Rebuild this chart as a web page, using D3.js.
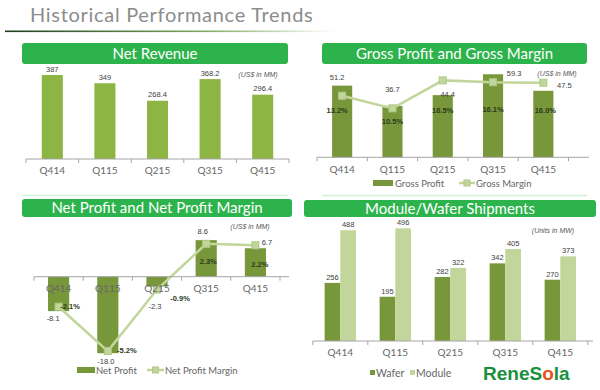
<!DOCTYPE html>
<html lang="en">
<head>
<meta charset="UTF-8">
<title>Historical Performance Trends</title>
<style>
body { margin: 0; background: #fff; }
svg { display: block; font-family: Lato, "Liberation Sans", sans-serif; }
.head-text { fill: #fff; font-size: 15px; text-anchor: middle; }
.tick-label { fill: #666; font-size: 10px; text-anchor: middle; }
.val { fill: #404040; font-size: 7.5px; text-anchor: middle; font-family: "Liberation Sans", sans-serif; }
.pct { fill: #2b3a1a; font-size: 7.5px; font-weight: bold; text-anchor: middle; font-family: "Liberation Sans", sans-serif; }
.unit { fill: #595959; font-size: 7px; font-style: italic; text-anchor: middle; font-family: "Liberation Sans", sans-serif; }
.legend { fill: #666; font-size: 9.5px; }
</style>
</head>
<body>
<svg id="chart" width="600" height="390"></svg>
<script src="https://d3js.org/d3.v7.min.js"></script>
<script>
// data
const quarters = ["Q414", "Q115", "Q215", "Q315", "Q415"];
const netRevenue = [387, 349, 268.4, 368.2, 296.4];
const grossProfit = [51.2, 36.7, 44.4, 59.3, 47.5];
const grossMargin = [13.2, 10.5, 16.5, 16.1, 16.0];
const netProfit = [-8.1, -18.0, -2.3, 8.6, 6.7];
const netProfitMargin = [-2.1, -5.2, -0.9, 2.3, 2.2];
const waferShip = [256, 195, 282, 342, 270];
const moduleShip = [488, 496, 322, 405, 373];
const shipSeries = ["Wafer", "Module"];

const green = "#2db34b";
const barLight = "#8db543";
const barDark = "#78973b";
const lineLight = "#c2d69b";

const svg = d3.select("#chart");

// title + underline
const grad = svg.append("defs").append("linearGradient").attr("id", "rule");
grad.append("stop").attr("offset", "0%").attr("stop-color", "#1e3d1e");
grad.append("stop").attr("offset", "60%").attr("stop-color", "#7ea862");
grad.append("stop").attr("offset", "100%").attr("stop-color", "#ffffff");

svg.append("text")
  .attr("x", 30).attr("y", 22)
  .attr("fill", "#8c8c8c")
  .style("font-size", "20px")
  .style("letter-spacing", "0.7px")
  .text("Historical Performance Trends");

svg.append("rect")
  .attr("x", 5).attr("y", 30.5).attr("width", 330).attr("height", 1.6)
  .attr("fill", "url(#rule)");

function header(x0, x1, y0, y1, label) {
  svg.append("rect")
    .attr("x", x0).attr("y", y0).attr("width", x1 - x0).attr("height", y1 - y0)
    .attr("rx", 3).attr("fill", green);
  svg.append("text")
    .attr("class", "head-text")
    .attr("x", (x0 + x1) / 2).attr("y", (y0 + y1) / 2 + 5)
    .text(label);
}

// category axis: line, ticks at band edges, labels
function categoryAxis(x, y, lineEnd, labelY) {
  const half = x.step() / 2;
  svg.append("line")
    .attr("x1", x.range()[0]).attr("x2", lineEnd)
    .attr("y1", y).attr("y2", y)
    .attr("stroke", "#a6a6a6").attr("stroke-width", 1);
  const edges = quarters.map(q => x(q) + x.bandwidth() / 2 - half)
    .concat([x(quarters[quarters.length - 1]) + x.bandwidth() / 2 + half]);
  svg.selectAll(null).data(edges).enter().append("line")
    .attr("x1", d => d).attr("x2", d => d)
    .attr("y1", y).attr("y2", y + 4)
    .attr("stroke", "#a6a6a6");
  svg.selectAll(null).data(quarters).enter().append("text")
    .attr("class", "tick-label")
    .attr("x", d => x(d) + x.bandwidth() / 2)
    .attr("y", labelY)
    .text(d => d);
}

const f1 = d => d.toFixed(1);

// ---------- Net Revenue ----------
header(22, 288, 43, 64, "Net Revenue");
const x1 = d3.scaleBand().domain(quarters).range([26, 289]).paddingInner(0.6).paddingOuter(0.3);
const y1 = d3.scaleLinear().domain([0, 450]).range([159, 61.35]);

svg.selectAll(null).data(netRevenue).enter().append("rect")
  .attr("x", (d, i) => x1(quarters[i]))
  .attr("y", d => y1(d))
  .attr("width", x1.bandwidth())
  .attr("height", d => y1(0) - y1(d))
  .attr("fill", barLight);
svg.selectAll(null).data(netRevenue).enter().append("text")
  .attr("class", "val")
  .attr("x", (d, i) => x1(quarters[i]) + x1.bandwidth() / 2)
  .attr("y", d => y1(d) - 3.5)
  .text(d => String(d));
categoryAxis(x1, y1(0), 289, 174);
svg.append("text").attr("class", "unit").attr("x", 258).attr("y", 76.5).text("(US$ in MM)");

// ---------- Gross Profit and Gross Margin ----------
header(322, 587, 43, 64, "Gross  Profit and Gross Margin");
const x2 = d3.scaleBand().domain(quarters).range([317, 568.5]).paddingInner(0.6).paddingOuter(0.3);
const y2 = d3.scaleLinear().domain([0, 70]).range([157.3, 59.3]);
const m2 = d3.scaleLinear().domain([0, 21]).range([157.3, 59.4]);
const c2 = q => x2(q) + x2.bandwidth() / 2;

svg.selectAll(null).data(grossProfit).enter().append("rect")
  .attr("x", (d, i) => x2(quarters[i]))
  .attr("y", d => y2(d))
  .attr("width", x2.bandwidth())
  .attr("height", d => y2(0) - y2(d))
  .attr("fill", barDark);
categoryAxis(x2, y2(0), 589, 173);

svg.append("path")
  .datum(grossMargin)
  .attr("fill", "none").attr("stroke", lineLight).attr("stroke-width", 2.5)
  .attr("d", d3.line().x((d, i) => c2(quarters[i])).y(d => m2(d)));
svg.selectAll(null).data(grossMargin).enter().append("rect")
  .attr("x", (d, i) => c2(quarters[i]) - 3.5)
  .attr("y", d => m2(d) - 3.5)
  .attr("width", 7).attr("height", 7)
  .attr("fill", lineLight).attr("stroke", "#b0c888");

// label nudges (dx, dy) as placed on the slide
const gpNudge = [[-5, -5.5], [0, -14], [5, 2], [21, 2], [21, -3]];
svg.selectAll(null).data(grossProfit).enter().append("text")
  .attr("class", "val")
  .attr("x", (d, i) => c2(quarters[i]) + gpNudge[i][0])
  .attr("y", (d, i) => y2(d) + gpNudge[i][1])
  .text(d => f1(d));
const gmNudge = [[-5, 17], [0, 16], [0, 33], [0, 30], [2, 30]];
svg.selectAll(null).data(grossMargin).enter().append("text")
  .attr("class", "pct")
  .attr("x", (d, i) => c2(quarters[i]) + gmNudge[i][0])
  .attr("y", (d, i) => m2(d) + gmNudge[i][1])
  .text(d => f1(d) + "%");
svg.append("text").attr("class", "unit").attr("x", 557).attr("y", 75.5).text("(US$ in MM)");

// legend
svg.append("rect").attr("x", 373).attr("y", 180).attr("width", 20).attr("height", 6).attr("fill", barDark);
svg.append("text").attr("class", "legend").attr("x", 395).attr("y", 186.5).text("Gross Profit");
svg.append("line").attr("x1", 459).attr("x2", 475).attr("y1", 183).attr("y2", 183)
  .attr("stroke", lineLight).attr("stroke-width", 2.5);
svg.append("rect").attr("x", 464).attr("y", 180).attr("width", 6).attr("height", 6)
  .attr("fill", lineLight).attr("stroke", "#b0c888");
svg.append("text").attr("class", "legend").attr("x", 476).attr("y", 186.5).text("Gross Margin");

// faint rules under the top panels
[[22, 288], [322, 587]].forEach(([a, b]) => {
  svg.append("line").attr("x1", a).attr("x2", b).attr("y1", 195.5).attr("y2", 195.5)
    .attr("stroke", "#cdf1d6").attr("stroke-width", 1.5);
});

// ---------- Net Profit and Net Profit Margin ----------
header(22, 292, 199, 217, "Net Profit and Net Profit Margin");
const x3 = d3.scaleBand().domain(quarters).range([34, 280]).paddingInner(0.57).paddingOuter(0.285);
const y3 = d3.scaleLinear().domain([-20, 10]).range([361.7, 234.2]);
const m3 = d3.scaleLinear().domain([-6, 3]).range([362.5, 233.8]);
const c3 = q => x3(q) + x3.bandwidth() / 2;

svg.selectAll(null).data(netProfit).enter().append("rect")
  .attr("x", (d, i) => x3(quarters[i]))
  .attr("y", d => Math.min(y3(d), y3(0)))
  .attr("width", x3.bandwidth())
  .attr("height", d => Math.abs(y3(0) - y3(d)))
  .attr("fill", barDark);

svg.append("path")
  .datum(netProfitMargin)
  .attr("fill", "none").attr("stroke", lineLight).attr("stroke-width", 2.5)
  .attr("d", d3.line().x((d, i) => c3(quarters[i])).y(d => m3(d)));
svg.selectAll(null).data(netProfitMargin).enter().append("rect")
  .attr("x", (d, i) => c3(quarters[i]) - 3.5)
  .attr("y", d => m3(d) - 3.5)
  .attr("width", 7).attr("height", 7)
  .attr("fill", lineLight).attr("stroke", "#b0c888");

categoryAxis(x3, y3(0), 289, 292);

const npNudge = [[-5.5, 10], [-2, 10.3], [-2, 23], [-3.5, -6], [11.5, -3.7]];
svg.selectAll(null).data(netProfit).enter().append("text")
  .attr("class", "val")
  .attr("x", (d, i) => c3(quarters[i]) + npNudge[i][0])
  .attr("y", (d, i) => y3(d) + npNudge[i][1])
  .text(d => f1(d));
const npmNudge = [[11.5, 2.3], [19, 2], [23, 11.5], [2, 20], [4.5, 22]];
svg.selectAll(null).data(netProfitMargin).enter().append("text")
  .attr("class", "pct")
  .attr("x", (d, i) => c3(quarters[i]) + npmNudge[i][0])
  .attr("y", (d, i) => m3(d) + npmNudge[i][1])
  .text(d => f1(d) + "%");
svg.append("text").attr("class", "unit").attr("x", 250).attr("y", 229).text("(US$ in MM)");

svg.append("rect").attr("x", 77).attr("y", 367).attr("width", 18).attr("height", 6).attr("fill", barDark);
svg.append("text").attr("class", "legend").attr("x", 96).attr("y", 373.5).text("Net Profit");
svg.append("line").attr("x1", 147).attr("x2", 164).attr("y1", 370).attr("y2", 370)
  .attr("stroke", lineLight).attr("stroke-width", 2.5);
svg.append("rect").attr("x", 152.5).attr("y", 367).attr("width", 6).attr("height", 6)
  .attr("fill", lineLight).attr("stroke", "#b0c888");
svg.append("text").attr("class", "legend").attr("x", 165).attr("y", 373.5).text("Net Profit Margin");

// ---------- Module/Wafer Shipments ----------
header(304, 596, 200, 217, "Module/Wafer Shipments");
const x4 = d3.scaleBand().domain(quarters).range([312.8, 587.8]).paddingInner(0.43).paddingOuter(0.215);
const xs = d3.scaleBand().domain(shipSeries).range([0, x4.bandwidth()]);
const y4 = d3.scaleLinear().domain([0, 600]).range([341, 204.8]);
const shipColor = d3.scaleOrdinal().domain(shipSeries).range([barDark, lineLight]);

const shipRows = quarters.map((q, i) => ({ q, Wafer: waferShip[i], Module: moduleShip[i] }));
const groups = svg.selectAll(null).data(shipRows).enter().append("g")
  .attr("transform", d => `translate(${x4(d.q)},0)`);
groups.selectAll("rect").data(d => shipSeries.map(k => ({ k, v: d[k] }))).enter().append("rect")
  .attr("x", d => xs(d.k))
  .attr("y", d => y4(d.v))
  .attr("width", xs.bandwidth())
  .attr("height", d => y4(0) - y4(d.v))
  .attr("fill", d => shipColor(d.k));
groups.selectAll("text").data(d => shipSeries.map(k => ({ k, v: d[k] }))).enter().append("text")
  .attr("class", "val")
  .attr("x", d => xs(d.k) + xs.bandwidth() / 2)
  .attr("y", d => y4(d.v) - 3)
  .text(d => d.v);
categoryAxis(x4, y4(0), 593, 355.5);
svg.append("text").attr("class", "unit").attr("x", 553).attr("y", 232.5).text("(Units in MW)");

shipSeries.forEach((k, i) => {
  const lx = 370 + i * 40;
  svg.append("rect").attr("x", lx).attr("y", 370).attr("width", 5).attr("height", 5).attr("fill", shipColor(k));
  svg.append("text").attr("class", "legend").style("font-size", "10.5px")
    .attr("x", lx + 6).attr("y", 377).text(k);
});

// logo
const logo = svg.append("text")
  .attr("x", 483).attr("y", 380)
  .attr("fill", "#1a8f3c")
  .style("font-family", "'Liberation Sans', sans-serif")
  .style("font-weight", "bold")
  .style("font-size", "19px");
logo.append("tspan").text("ReneS");
logo.append("tspan").attr("fill", "#e8501e").text("o");
logo.append("tspan").text("la");
</script>
</body>
</html>
